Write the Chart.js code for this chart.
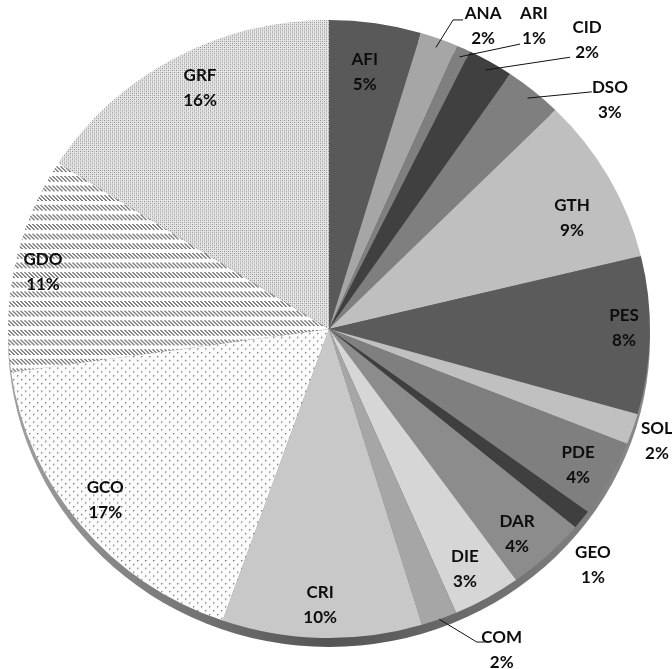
<!DOCTYPE html>
<html>
<head>
<meta charset="utf-8">
<script src="https://cdn.jsdelivr.net/npm/chart.js@4.4.1/dist/chart.umd.min.js"></script>
<style>
  html, body { margin: 0; padding: 0; background: #fff; }
  #wrap { width: 672px; height: 669px; position: relative; }
</style>
</head>
<body>
<div id="wrap"><canvas id="pie"></canvas></div>
<script>
/* ============================================================
   DATA (clockwise from 12 o'clock)
   ============================================================ */
const CATS   = ["AFI","ANA","ARI","CID","DSO","GTH","PES","SOL","PDE","GEO","DAR","DIE","COM","CRI","GCO","GDO","GRF"];
const VALUES = [4.6, 1.9, 0.7, 2.3, 2.9, 8.7, 8.2, 1.6, 4.0, 1.0, 4.0, 3.4, 1.8, 10.0, 17.3, 11.2, 15.9];

/* ============================================================
   STYLE
   ============================================================ */
const TILT = 0.9626;          // pie is drawn as a slightly flattened ellipse
const WALL = 9;              // thickness of the 3D side wall (px)
const FONT = "bold 17px Lato, 'Open Sans', sans-serif";

const canvas = document.getElementById("pie");
const ctx0   = canvas.getContext("2d");

function tile(w, h, bg, draw) {
  const c = document.createElement("canvas");
  c.width = w; c.height = h;
  const g = c.getContext("2d");
  g.fillStyle = bg; g.fillRect(0, 0, w, h);
  draw(g);
  return ctx0.createPattern(c, "repeat");
}

// GCO: sparse dots on white
const patGCO = tile(8, 8, "#fbfbfb", g => {
  g.fillStyle = "#7a7a7a";
  g.fillRect(1, 1, 1, 1); g.fillRect(5, 5, 1, 1);
  g.fillStyle = "#bcbcbc";
  g.fillRect(2, 1, 1, 1); g.fillRect(6, 5, 1, 1);
  g.fillRect(1, 2, 1, 1); g.fillRect(5, 6, 1, 1);
});
// GDO: bands of short diagonal strokes
const patGDO = tile(4, 10, "#ffffff", g => {
  g.fillStyle = "#808080";
  for (let y = 0; y < 6; y++) {
    g.fillRect(y % 4, y, 1, 1);
    g.fillRect((y + 1) % 4, y, 1, 1);
  }
});
// GRF: fine dense dots
const patGRF = tile(4, 4, "#e6e6e6", g => {
  g.fillStyle = "#858585";
  g.fillRect(0, 0, 1, 1); g.fillRect(2, 2, 1, 1);
  g.fillStyle = "#b5b5b5";
  g.fillRect(2, 0, 1, 1); g.fillRect(0, 2, 1, 1);
});

const FILLS = [
  "#595959", "#a6a6a6", "#7f7f7f", "#404040", "#7f7f7f", "#bfbfbf", "#5b5b5b",
  "#c0c0c0", "#7f7f7f", "#3f3f3f", "#8c8c8c", "#d6d6d6", "#a6a6a6", "#c8c8c8",
  patGCO, patGDO, patGRF,
];

// label placement: angle tweak (deg), radius factor, optional leader (offsets from text centre)
const LAYOUT = {
  AFI: { da: -0.7, r: 0.84 },
  ANA: { da: 6,    r: 1.092, lead: [[-30, -6], [-20, -6]] },
  ARI: { da: 8.3,  r: 1.17,  lead: [[-14, 18]] },
  CID: { da: 10.5, r: 1.233, lead: [[-17, 17]] },
  DSO: { da: 10.1, r: 1.147, lead: [[-18, -8]] },
  GTH: { da: 4,    r: 0.838 },
  PES: { da: -1.4, r: 0.919 },
  SOL: { da: 0.6,  r: 1.084 },
  PDE: { da: 0.5,  r: 0.892 },
  GEO: { da: 4.8,  r: 1.122 },
  DAR: { da: 1.4,  r: 0.885 },
  DIE: { da: 0.9,  r: 0.885 },
  COM: { da: -7.3, r: 1.17,  lead: [[-25, -8], [-17, -8]], lr: 1.0 },
  CRI: { da: 0.5,  r: 0.893 },
  GCO: { da: 0.9,  r: 0.89 },
  GDO: { da: -0.5, r: 0.91 },
  GRF: { da: 1.5,  r: 0.877 },
};

/* ============================================================
   PLUGINS
   ============================================================ */
const tiltPlugin = {
  id: "tilt",
  beforeDatasetsDraw(chart) {
    const arc = chart.getDatasetMeta(0).data[0];
    if (!arc) return;
    const { x, y, outerRadius: R } = arc;
    const ctx = chart.ctx;
    ctx.save();
    ctx.translate(0, y);
    ctx.scale(1, TILT);
    ctx.translate(0, -y);
    // side wall, seen below the top face
    const grd = ctx.createLinearGradient(x - R, 0, x + R, 0);
    grd.addColorStop(0, "#a0a0a0");
    grd.addColorStop(0.5, "#545454");
    grd.addColorStop(1, "#8a8a8a");
    ctx.fillStyle = grd;
    ctx.beginPath();
    ctx.arc(x, y + WALL / TILT, R, 0, Math.PI * 2);
    ctx.fill();
  },
  afterDatasetsDraw(chart) {
    chart.ctx.restore();
  },
};

const labelPlugin = {
  id: "sliceLabels",
  afterDraw(chart) {
    const ctx = chart.ctx;
    const meta = chart.getDatasetMeta(0);
    const total = VALUES.reduce((a, b) => a + b, 0);
    ctx.save();
    ctx.font = FONT;
    ctx.fillStyle = "#0d0d0d";
    ctx.strokeStyle = "#111";
    ctx.lineWidth = 1;
    ctx.textAlign = "center";
    ctx.textBaseline = "middle";
    meta.data.forEach((arc, i) => {
      const { x, y, startAngle, endAngle, outerRadius: R } = arc.getProps(["x", "y", "startAngle", "endAngle", "outerRadius"], true);
      const lay = LAYOUT[CATS[i]] || { da: 0, r: 0.88 };
      const mid = (startAngle + endAngle) / 2;
      const a = mid + (lay.da || 0) * Math.PI / 180;
      const tx = x + lay.r * R * Math.cos(a);
      const ty = y + lay.r * R * TILT * Math.sin(a);
      const pct = Math.round(VALUES[i] / total * 100) + "%";
      ctx.fillText(CATS[i], tx, ty - 12.5);
      ctx.fillText(pct, tx, ty + 12.5);
      if (lay.lead) {
        const lr = lay.lr || 0.97;
        ctx.beginPath();
        ctx.moveTo(x + lr * R * Math.cos(mid), y + lr * R * TILT * Math.sin(mid));
        lay.lead.forEach(([dx, dy]) => ctx.lineTo(tx + dx, ty + dy));
        ctx.stroke();
      }
    });
    ctx.restore();
  },
};

/* ============================================================
   CHART
   ============================================================ */
new Chart(ctx0, {
  type: "pie",
  data: {
    labels: CATS,
    datasets: [{
      data: VALUES,
      backgroundColor: FILLS,
      borderWidth: 0,
    }],
  },
  options: {
    responsive: true,
    maintainAspectRatio: false,
    animation: false,
    layout: { padding: { left: 8, right: 22, top: 8, bottom: 19 } },
    plugins: {
      legend: { display: false },
      tooltip: { enabled: false },
    },
  },
  plugins: [tiltPlugin, labelPlugin],
});
</script>
</body>
</html>
